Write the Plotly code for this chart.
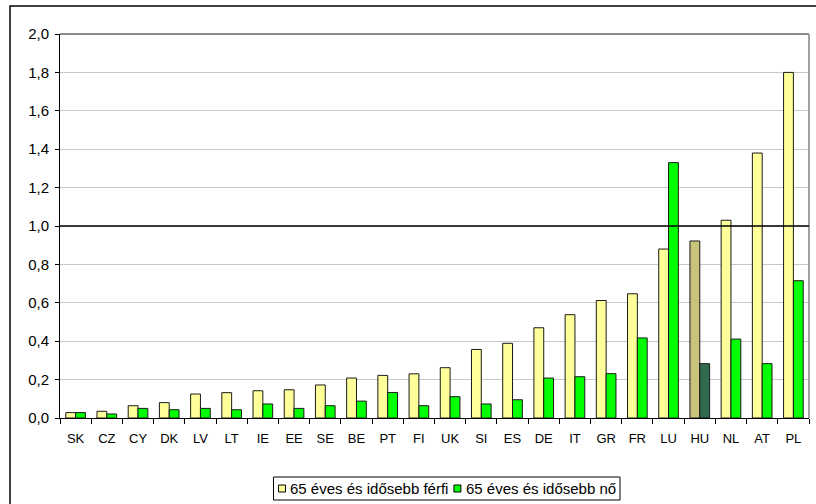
import plotly.graph_objects as go

countries = ["SK", "CZ", "CY", "DK", "LV", "LT", "IE", "EE", "SE", "BE", "PT", "FI",
             "UK", "SI", "ES", "DE", "IT", "GR", "FR", "LU", "HU", "NL", "AT", "PL"]
men = [0.028, 0.035, 0.064, 0.080, 0.125, 0.132, 0.142, 0.147, 0.172, 0.208, 0.222, 0.230,
       0.262, 0.357, 0.389, 0.470, 0.538, 0.612, 0.647, 0.880, 0.922, 1.030, 1.380, 1.800]
women = [0.028, 0.021, 0.050, 0.043, 0.050, 0.043, 0.073, 0.050, 0.064, 0.088, 0.133, 0.064,
         0.111, 0.073, 0.095, 0.208, 0.215, 0.231, 0.417, 1.330, 0.283, 0.411, 0.283, 0.715]
name_men = "65 éves és idősebb férfi"
name_women = "65 éves és idősebb nő"
highlight = "HU"
y_ticks = [0.0, 0.2, 0.4, 0.6, 0.8, 1.0, 1.2, 1.4, 1.6, 1.8, 2.0]
reference_level = 1.0

MEN_COL, WOMEN_COL = "#FFFF99", "#00FF00"
men_colors = ["#C9C37C" if c == highlight else MEN_COL for c in countries]
women_colors = ["#2F6B4C" if c == highlight else WOMEN_COL for c in countries]

W, H = 816, 504
L, R, T, B = 60, 7, 34, 86
PW, PH = W - L - R, H - T - B


def px(x):
    return (x - L) / PW


def py(y):
    return (H - B - y) / PH


FONT = "Liberation Sans, Arial, sans-serif"

fig = go.Figure()
fig.add_trace(go.Bar(x=countries, y=men, name=name_men, showlegend=False,
                     marker=dict(color=men_colors, line=dict(color="#1a1a1a", width=1))))
fig.add_trace(go.Bar(x=countries, y=women, name=name_women, showlegend=False,
                     marker=dict(color=women_colors, line=dict(color="#1a1a1a", width=1))))

fig.update_layout(
    width=W, height=H,
    margin=dict(l=L, r=R, t=T, b=B, autoexpand=False),
    paper_bgcolor="white", plot_bgcolor="white",
    separators=", ",
    barmode="group", bargap=0.37, bargroupgap=0,
    font=dict(family=FONT, size=13, color="black"),
    showlegend=False,
    xaxis=dict(showline=True, linecolor="black", linewidth=1, ticks="outside",
               tickson="boundaries", ticklen=5, tickcolor="black", showgrid=False,
               tickfont=dict(size=13), ticklabelstandoff=8),
    yaxis=dict(range=[0, 2.0], tickvals=y_ticks, tickformat=".1f", showline=True,
               linecolor="black", linewidth=1, ticks="outside", ticklen=4,
               tickcolor="black", showgrid=True, gridcolor="#C8C8C8", gridwidth=1,
               zeroline=False, tickfont=dict(size=15), ticklabelstandoff=3),
)

# plot-area border (top and right) in gray
fig.add_shape(type="line", xref="paper", yref="paper", x0=0, x1=1, y0=1, y1=1,
              line=dict(color="#8C8C8C", width=2))
fig.add_shape(type="line", xref="paper", yref="paper", x0=1, x1=1, y0=0, y1=1,
              line=dict(color="#A0A0A0", width=2))
# reference line at 1.0
fig.add_shape(type="line", xref="paper", yref="y", x0=0, x1=1, y0=reference_level,
              y1=reference_level, line=dict(color="black", width=1.5), layer="above")
# outer chart border (left and top visible)
fig.add_shape(type="rect", xref="paper", yref="paper",
              x0=px(10), x1=px(840), y0=py(530), y1=py(6),
              line=dict(color="black", width=1.5))

# legend (manual)
LEG_R, LEG_T, LEG_B = 620, 477, 500
LEG_FS = 15
ymid = (LEG_T + LEG_B) / 2
w_text2 = 10.006 * LEG_FS
w_text1 = 10.561 * LEG_FS
sq = 7
sq2_x = LEG_R - 5 - w_text2 - 4 - sq
sq1_x = sq2_x - 6 - w_text1 - 4 - sq
leg_l = sq1_x - 5
fig.add_shape(type="rect", xref="paper", yref="paper",
              x0=px(leg_l), x1=px(LEG_R), y0=py(LEG_B), y1=py(LEG_T),
              line=dict(color="black", width=1), fillcolor="white")
for sx, col, label in [(sq1_x, MEN_COL, name_men), (sq2_x, WOMEN_COL, name_women)]:
    fig.add_shape(type="rect", xref="paper", yref="paper",
                  x0=px(sx), x1=px(sx + sq), y0=py(ymid + sq / 2), y1=py(ymid - sq / 2),
                  line=dict(color="black", width=1), fillcolor=col)
    fig.add_annotation(xref="paper", yref="paper", x=px(sx + sq + 3), y=py(ymid),
                       text=label, showarrow=False, xanchor="left", yanchor="middle",
                       font=dict(family=FONT, size=LEG_FS, color="black"))

fig.write_html("out.html", config={"displayModeBar": False},
               post_script="document.body.style.margin='0';document.body.style.overflow='hidden';")
